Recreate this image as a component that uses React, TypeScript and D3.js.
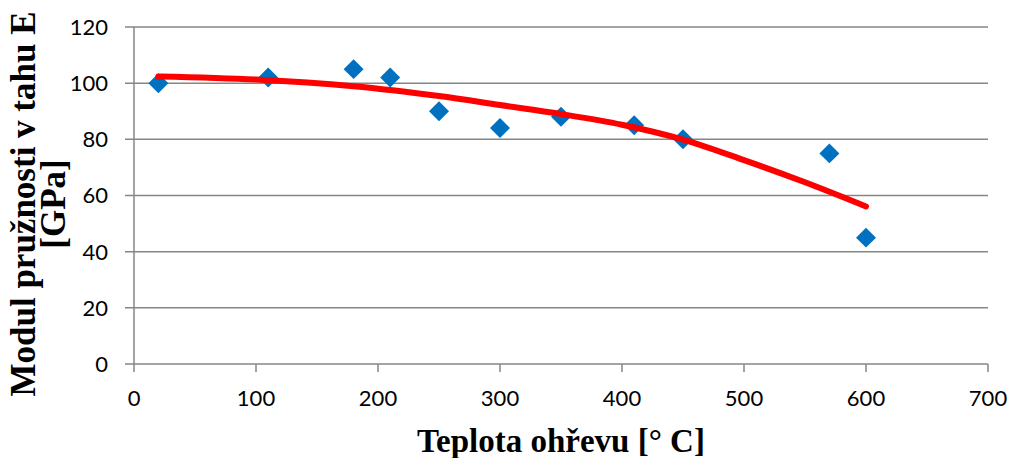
import React, { useRef, useEffect } from 'react';
import * as d3 from 'd3';

// measured points: temperature [°C] vs modulus [GPa]
const temps = [20, 110, 180, 210, 250, 300, 350, 410, 450, 570, 600];
const modulus = [100, 102, 105, 102, 90, 84, 88, 85, 80, 75, 45];

// trendline
const trendTemps = [20, 100, 180, 250, 300, 350, 400, 450, 500, 550, 600];
const trendValues = [102.4, 101.3, 98.9, 95.4, 92.2, 89.0, 85.2, 79.9, 72.6, 64.7, 56.1];

const xTicks = [0, 100, 200, 300, 400, 500, 600, 700];
const yTicks = [0, 20, 40, 60, 80, 100, 120];

const App: React.FC = () => {
  const svgRef = useRef<SVGSVGElement | null>(null);

  useEffect(() => {
    if (!svgRef.current) return;
    const width = 1009;
    const height = 458;
    const margin = { top: 27, right: 21, bottom: 94, left: 134 };
    const innerW = width - margin.left - margin.right;
    const innerH = height - margin.top - margin.bottom;
    const grey = '#868686';
    const tickFont = 'Lato, "Open Sans", sans-serif';
    const titleFont = '"Liberation Serif", "DejaVu Serif", serif';

    const svg = d3.select(svgRef.current);
    svg.selectAll('*').remove();
    svg.attr('width', width).attr('height', height);

    const g = svg.append('g').attr('transform', `translate(${margin.left},${margin.top})`);

    const x = d3.scaleLinear().domain([0, 700]).range([0, innerW]);
    const y = d3.scaleLinear().domain([0, 120]).range([innerH, 0]);

    // horizontal gridlines with left ticks
    g.selectAll('line.grid')
      .data(yTicks)
      .enter()
      .append('line')
      .attr('class', 'grid')
      .attr('x1', -9)
      .attr('x2', innerW)
      .attr('y1', d => y(d))
      .attr('y2', d => y(d))
      .attr('stroke', grey)
      .attr('stroke-width', 1.5);

    // y axis line
    g.append('line')
      .attr('x1', 0)
      .attr('x2', 0)
      .attr('y1', 0)
      .attr('y2', innerH)
      .attr('stroke', grey)
      .attr('stroke-width', 1.5);

    // x ticks
    g.selectAll('line.xtick')
      .data(xTicks)
      .enter()
      .append('line')
      .attr('class', 'xtick')
      .attr('x1', d => x(d))
      .attr('x2', d => x(d))
      .attr('y1', innerH)
      .attr('y2', innerH + 8)
      .attr('stroke', grey)
      .attr('stroke-width', 1.5);

    // y tick labels
    g.selectAll('text.ylab')
      .data(yTicks)
      .enter()
      .append('text')
      .attr('class', 'ylab')
      .attr('x', -26)
      .attr('y', d => y(d))
      .attr('dy', '0.36em')
      .attr('text-anchor', 'end')
      .attr('font-family', tickFont)
      .attr('font-size', 22)
      .attr('fill', '#000')
      .text(d => d);

    // x tick labels
    g.selectAll('text.xlab')
      .data(xTicks)
      .enter()
      .append('text')
      .attr('class', 'xlab')
      .attr('x', d => x(d))
      .attr('y', innerH + 42)
      .attr('text-anchor', 'middle')
      .attr('font-family', tickFont)
      .attr('font-size', 22)
      .attr('fill', '#000')
      .text(d => d);

    // data points
    const diamond = d3.symbol(d3.symbolSquare, 200);
    g.selectAll('path.pt')
      .data(temps.map((t, i) => [t, modulus[i]] as [number, number]))
      .enter()
      .append('path')
      .attr('class', 'pt')
      .attr('d', diamond)
      .attr('transform', d => `translate(${x(d[0])},${y(d[1])}) rotate(45)`)
      .attr('fill', '#0070C0');

    // trendline
    const line = d3
      .line<[number, number]>()
      .x(d => x(d[0]))
      .y(d => y(d[1]))
      .curve(d3.curveCatmullRom);
    g.append('path')
      .datum(trendTemps.map((t, i) => [t, trendValues[i]] as [number, number]))
      .attr('d', line)
      .attr('fill', 'none')
      .attr('stroke', '#FF0000')
      .attr('stroke-width', 6)
      .attr('stroke-linecap', 'round')
      .attr('stroke-linejoin', 'round');

    // axis titles
    svg.append('text')
      .attr('x', margin.left + innerW / 2)
      .attr('y', 452)
      .attr('text-anchor', 'middle')
      .attr('font-family', titleFont)
      .attr('font-weight', 'bold')
      .attr('font-size', 33)
      .attr('fill', '#000')
      .text('Teplota ohřevu [° C]');

    const yTitle = svg.append('text')
      .attr('transform', 'translate(35,204) rotate(-90)')
      .attr('text-anchor', 'middle')
      .attr('font-family', titleFont)
      .attr('font-weight', 'bold')
      .attr('font-size', 35)
      .attr('fill', '#000');
    yTitle.append('tspan').attr('x', 0).attr('dy', 0).text('Modul pružnosti v tahu E');
    yTitle.append('tspan').attr('x', 0).attr('dy', 30).text('[GPa]');
  }, []);

  return <svg ref={svgRef} style={{ position: 'absolute', left: 0, top: 0 }}></svg>;
};

export default App;
